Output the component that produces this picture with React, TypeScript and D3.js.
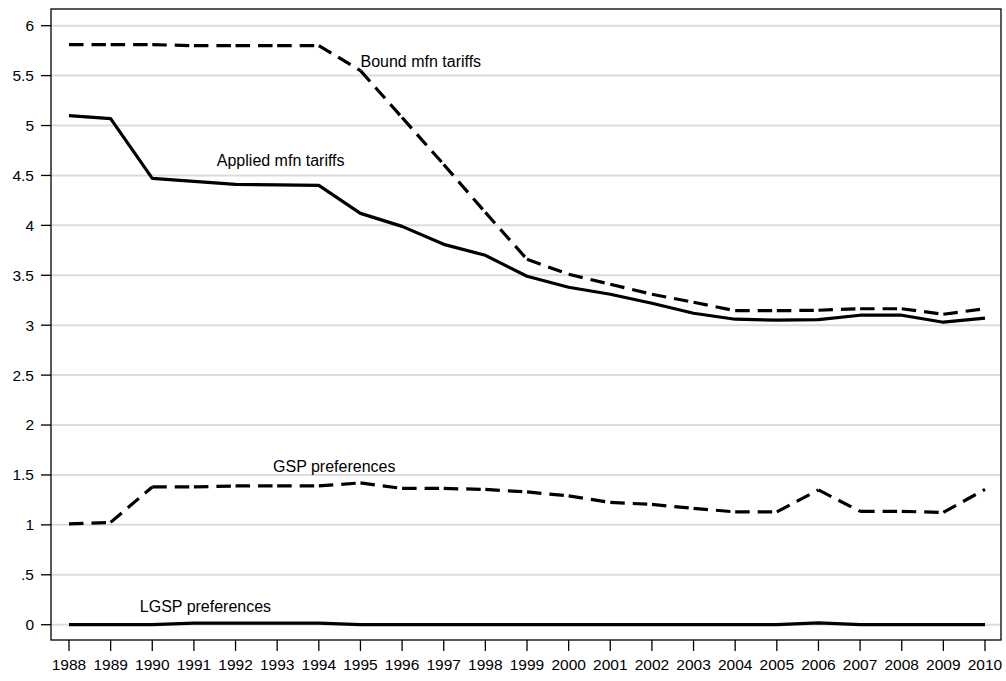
import React from "react";
import * as d3 from "d3";

const years = [1988, 1989, 1990, 1991, 1992, 1993, 1994, 1995, 1996, 1997, 1998, 1999, 2000, 2001, 2002, 2003, 2004, 2005, 2006, 2007, 2008, 2009, 2010];
const boundMfn = [5.81, 5.81, 5.81, 5.80, 5.80, 5.80, 5.80, 5.55, 5.08, 4.61, 4.13, 3.66, 3.51, 3.41, 3.31, 3.23, 3.145, 3.145, 3.15, 3.165, 3.165, 3.11, 3.165];
const appliedMfn = [5.10, 5.07, 4.47, 4.44, 4.41, 4.405, 4.40, 4.12, 3.99, 3.81, 3.70, 3.49, 3.38, 3.31, 3.22, 3.12, 3.06, 3.05, 3.055, 3.10, 3.10, 3.03, 3.07];
const gspPref = [1.01, 1.025, 1.38, 1.38, 1.39, 1.39, 1.39, 1.42, 1.365, 1.365, 1.355, 1.33, 1.29, 1.225, 1.205, 1.165, 1.13, 1.13, 1.35, 1.135, 1.135, 1.125, 1.355];
const lgspPref = [0, 0, 0, 0.015, 0.015, 0.015, 0.015, 0, 0, 0, 0, 0, 0, 0, 0, 0, 0, 0, 0.018, 0, 0, 0, 0];
const yTicks = [0, 0.5, 1, 1.5, 2, 2.5, 3, 3.5, 4, 4.5, 5, 5.5, 6];
const yTickLabels = ["0", ".5", "1", "1.5", "2", "2.5", "3", "3.5", "4", "4.5", "5", "5.5", "6"];
const labels = [
  { text: "Bound mfn tariffs", year: 1995, value: 5.59 },
  { text: "Applied mfn tariffs", year: 1991.55, value: 4.59 },
  { text: "GSP preferences", year: 1992.9, value: 1.53 },
  { text: "LGSP preferences", year: 1989.7, value: 0.125 },
];

const W = 1006;
const H = 681;
const frame = { left: 51, right: 1001, top: 9, bottom: 640 };
const FONT = "'Liberation Sans', Arial, Helvetica, sans-serif";

export default function App() {
  const x = d3.scaleLinear().domain([1988, 2010]).range([69, 985]);
  const y = d3.scaleLinear().domain([0, 6]).range([624.7, 25.7]);
  const line = d3
    .line<[number, number]>()
    .x((d) => x(d[0]))
    .y((d) => y(d[1]));

  const series = [
    { values: boundMfn, dashed: true },
    { values: appliedMfn, dashed: false },
    { values: gspPref, dashed: true },
    { values: lgspPref, dashed: false },
  ];

  return (
    <svg
      width={W}
      height={H}
      style={{ position: "absolute", left: 0, top: 0, background: "#fff" }}
      fontFamily={FONT}
    >
      <rect x={0} y={0} width={W} height={H} fill="#fff" />
      {yTicks.map((t) => (
        <line key={"g" + t} x1={frame.left} x2={frame.right} y1={y(t)} y2={y(t)} stroke="#dcdcdc" strokeWidth={2} />
      ))}
      {series.map((s, si) =>
        s.dashed ? (
          <g key={"s" + si}>
            {years.slice(1).map((yr, i) => (
              <path
                key={yr}
                d={line([
                  [years[i], s.values[i]],
                  [yr, s.values[i + 1]],
                ]) as string}
                fill="none"
                stroke="#000"
                strokeWidth={3.2}
                strokeDasharray="14.5 8"
              />
            ))}
          </g>
        ) : (
          <path
            key={"s" + si}
            d={line(years.map((yr, i) => [yr, s.values[i]] as [number, number])) as string}
            fill="none"
            stroke="#000"
            strokeWidth={3.2}
            strokeLinejoin="round"
          />
        )
      )}
      <rect
        x={frame.left}
        y={frame.top}
        width={frame.right - frame.left}
        height={frame.bottom - frame.top}
        fill="none"
        stroke="#000"
        strokeWidth={1.3}
      />
      {yTicks.map((t, i) => (
        <g key={"yt" + t}>
          <line x1={frame.left - 10} x2={frame.left} y1={y(t)} y2={y(t)} stroke="#000" strokeWidth={1.3} />
          <text x={34} y={y(t)} dy="0.35em" textAnchor="end" fontSize={15.5} fill="#000">
            {yTickLabels[i]}
          </text>
        </g>
      ))}
      {years.map((yr) => (
        <g key={"xt" + yr}>
          <line x1={x(yr)} x2={x(yr)} y1={frame.bottom} y2={frame.bottom + 11} stroke="#000" strokeWidth={1.3} />
          <text x={x(yr)} y={669.5} textAnchor="middle" fontSize={15.5} fill="#000">
            {yr}
          </text>
        </g>
      ))}
      {labels.map((l) => (
        <text key={l.text} x={x(l.year)} y={y(l.value)} fontSize={16} fill="#000">
          {l.text}
        </text>
      ))}
    </svg>
  );
}
